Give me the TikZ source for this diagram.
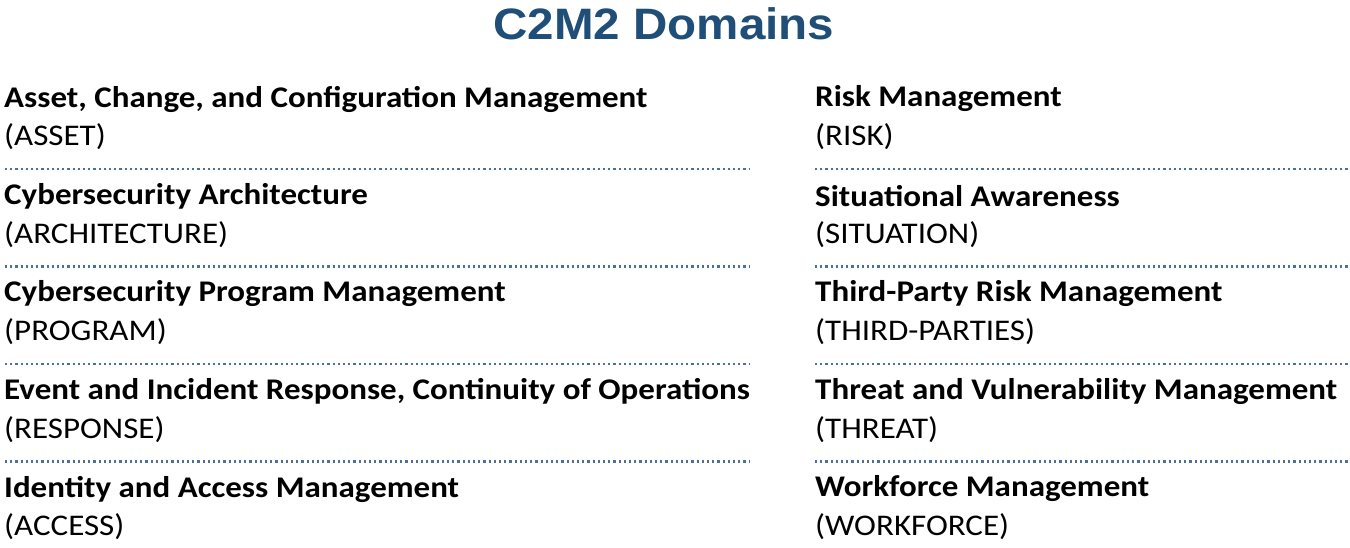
\documentclass[tikz,border=0pt]{standalone}
\usepackage{fontspec}
\setmainfont{Carlito}[FakeStretch=1.1]
\newfontfamily\titlefont{Liberation Sans}[FakeStretch=1.08]
\definecolor{titleblue}{HTML}{1F4E79}
\definecolor{dotblue}{HTML}{4A7298}
\begin{document}
\begin{tikzpicture}[x=1pt,y=-1pt,
  hd/.style={anchor=west,inner sep=0pt,font=\fontsize{30}{32}\selectfont\bfseries},
  sb/.style={anchor=west,inner sep=0pt,font=\fontsize{30}{32}\selectfont},
  sep/.style={dotblue,line width=2.2pt,dash pattern=on 2.2pt off 3pt}]
\useasboundingbox (0,0) rectangle (1350,548);
\node[font=\titlefont\fontsize{44}{48}\selectfont\bfseries,text=titleblue] (title) at (664,24) {C2M2 Domains};
\foreach \i/\h/\s in {0/{Asset, Change, and Configuration Management}/ASSET,
  1/Cybersecurity Architecture/ARCHITECTURE,
  2/Cybersecurity Program Management/PROGRAM,
  3/{Event and Incident Response, Continuity of Operations}/RESPONSE,
  4/Identity and Access Management/ACCESS}{
  \node[hd] (lh\i) at (4,99+97.5*\i) {\h};
  \node[sb] (ls\i) at (4,137+97.5*\i) {(\s)};
}
\foreach \i/\h/\s in {0/Risk Management/RISK,
  1/Situational Awareness/SITUATION,
  2/Third-Party Risk Management/THIRD-PARTIES,
  3/Threat and Vulnerability Management/THREAT,
  4/Workforce Management/WORKFORCE}{
  \node[hd] (rh\i) at (815,99+97.5*\i) {\h};
  \node[sb] (rs\i) at (815,137+97.5*\i) {(\s)};
}
\foreach \i in {0,...,3}{
  \draw[sep] (5,169+97.5*\i) -- (750,169+97.5*\i);
  \draw[sep] (815,169+97.5*\i) -- (1348,169+97.5*\i);
}
\end{tikzpicture}
\end{document}
